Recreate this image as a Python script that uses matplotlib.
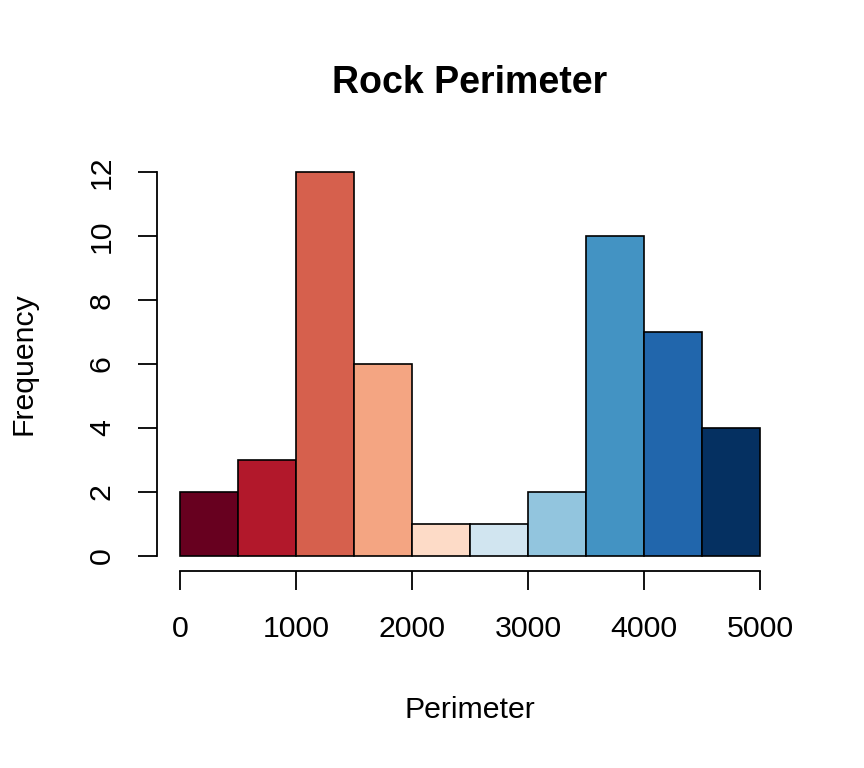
import numpy as np
import matplotlib.pyplot as plt

plt.rcParams['font.family'] = ['Liberation Sans', 'DejaVu Sans']

# histogram bins and counts
bin_edges = [0, 500, 1000, 1500, 2000, 2500, 3000, 3500, 4000, 4500, 5000]
counts = [2, 3, 12, 6, 1, 1, 2, 10, 7, 4]
colors = ['#67001F', '#B2182B', '#D6604D', '#F4A582', '#FDDBC7',
          '#D1E5F0', '#92C5DE', '#4393C3', '#2166AC', '#053061']
x_ticks = [0, 1000, 2000, 3000, 4000, 5000]
y_ticks = [0, 2, 4, 6, 8, 10, 12]

fig = plt.figure(figsize=(8.64, 7.68), dpi=100)
ax = fig.add_axes([0.1815, 0.256, 0.725, 0.540])

edges = np.array(bin_edges)
ax.bar(edges[:-1], counts, width=np.diff(edges), align='edge',
       color=colors, edgecolor='black', linewidth=1.2)

ax.set_xlim(-200, 5200)
ax.set_ylim(-0.48, 12.48)
for s in ['top', 'right']:
    ax.spines[s].set_visible(False)
ax.spines['bottom'].set_bounds(0, 5000)
ax.spines['left'].set_bounds(0, 12)
for s in ['bottom', 'left']:
    ax.spines[s].set_linewidth(1.3)

ax.set_xticks(x_ticks)
ax.set_yticks(y_ticks)
ax.tick_params(direction='out', length=13.5, width=1.3, labelsize=21.8, pad=18)
ax.tick_params(axis='y', pad=16)
for lab in ax.get_yticklabels():
    lab.set_rotation(90)
    lab.set_va('center')

ax.set_xlabel('Perimeter', fontsize=21.8, labelpad=38)
ax.set_ylabel('Frequency', fontsize=21.8, labelpad=36)
fig.suptitle('Rock Perimeter', fontsize=27, fontweight='bold', x=0.544, y=0.916)

fig.savefig('out.png', dpi=100)
